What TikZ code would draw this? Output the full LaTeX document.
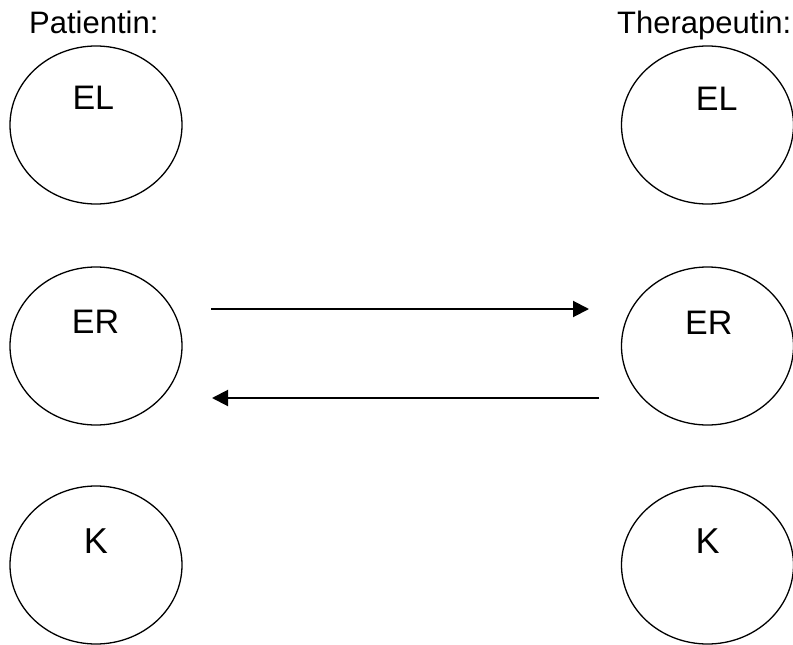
\documentclass[tikz,border=0pt]{standalone}
\usepackage{fontspec}
\setmainfont{Liberation Sans}
\usetikzlibrary{shapes.geometric,arrows.meta}
\begin{document}
\begin{tikzpicture}[x=1pt,y=-1pt,
  ego/.style={draw=black,line width=1.3pt,ellipse,minimum width=172pt,minimum height=158pt,inner sep=0pt},
  egolabel/.style={anchor=base,inner sep=0pt,font=\fontsize{34}{40}\selectfont},
  klabel/.style={anchor=base,inner sep=0pt,font=\fontsize{36}{42}\selectfont},
  heading/.style={anchor=base west,inner sep=0pt,font=\fontsize{31}{37}\selectfont},
  flow/.style={line width=2pt,-{Triangle[length=16pt,width=16pt]}}]
\useasboundingbox (0,0) rectangle (793,645);

% column headings
\node[heading] (hp) at (29,34) {Patientin:};
\node[heading] (ht) at (617,34) {Therapeutin:};

% ego states of the patient
\node[ego] (pEL) at (96,125) {};
\node[ego] (pER) at (96,346) {};
\node[ego] (pK)  at (96,565) {};
\node[egolabel] (tpEL) at (93.3,109.7) {EL};
\node[egolabel] (tpER) at (95.5,333.3) {ER};
\node[klabel]   (tpK)  at (95.8,553.7) {K};

% ego states of the therapist
\node[ego] (tEL) at (707.5,125) {};
\node[ego] (tER) at (707.5,346) {};
\node[ego] (tK)  at (707.5,565) {};
\node[egolabel] (ttEL) at (716.7,110) {EL};
\node[egolabel] (ttER) at (708.7,334) {ER};
\node[klabel]   (ttK)  at (707.5,553.7) {K};

% transactions between the adult ego states
\coordinate (a1) at (211,309);
\coordinate (a2) at (589,309);
\coordinate (b1) at (599,398);
\coordinate (b2) at (212,398);
\draw[flow] (a1) -- (a2);
\draw[flow] (b1) -- (b2);
\end{tikzpicture}
\end{document}
